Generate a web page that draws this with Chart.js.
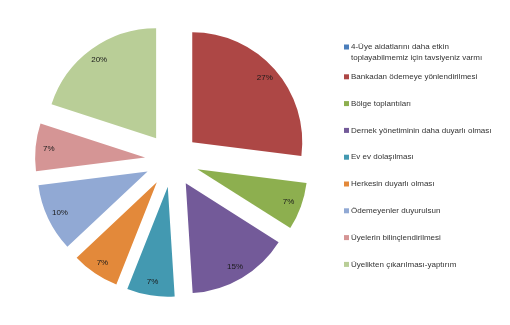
<!DOCTYPE html>
<html>
<head>
<meta charset="utf-8">
<script src="https://cdn.jsdelivr.net/npm/chart.js@4"></script>
<style>
  html, body { margin: 0; padding: 0; background: #ffffff; }
  #wrap { width: 510px; height: 325px; }
</style>
</head>
<body>
<div id="wrap"><canvas id="c" width="510" height="325"></canvas></div>
<script>
// Survey answers and their shares (%)
const categories = [
  ['4-Üye aidatlarını daha etkin', 'toplayabilmemiz için tavsiyeniz varmı'],
  ['Bankadan ödemeye yönlendirilmesi'],
  ['Bölge toplantıları'],
  ['Dernek yönetiminin daha duyarlı olması'],
  ['Ev ev dolaşılması'],
  ['Herkesin duyarlı olması'],
  ['Ödemeyenler duyurulsun'],
  ['Üyelerin bilinçlendirilmesi'],
  ['Üyelikten çıkarılması-yaptırım']
];
const shares = [0, 27, 7, 15, 7, 7, 10, 7, 20];
const sliceColors = ['#4A7EBB', '#AD4745', '#8DAF4F', '#735A99', '#4399B1', '#E3893A', '#91A9D4', '#D59595', '#B9CE97'];

const FONT = '"Liberation Sans", Arial, sans-serif';
const EXPLODE = 27;

// Pull every slice outward along its bisector, keeping one common radius
const explode = {
  id: 'explode',
  afterDatasetsUpdate(chart) {
    chart.getDatasetMeta(0).data.forEach(arc => {
      const mid = (arc.startAngle + arc.endAngle) / 2;
      arc.x += Math.cos(mid) * EXPLODE;
      arc.y += Math.sin(mid) * EXPLODE;
    });
  }
};

// Percentage labels placed inside each slice
const sliceLabels = {
  id: 'sliceLabels',
  afterDatasetsDraw(chart) {
    const ctx = chart.ctx;
    const meta = chart.getDatasetMeta(0);
    ctx.save();
    ctx.font = '8px ' + FONT;
    ctx.fillStyle = '#1a1a1a';
    ctx.textAlign = 'center';
    ctx.textBaseline = 'middle';
    meta.data.forEach((arc, i) => {
      const v = shares[i];
      if (!v) return;
      const mid = (arc.startAngle + arc.endAngle) / 2;
      const d = arc.outerRadius * 0.88;
      ctx.fillText(v + '%', arc.x + Math.cos(mid) * d, arc.y + Math.sin(mid) * d);
    });
    ctx.restore();
  }
};

// Legend on the right, one entry per answer
const sideLegend = {
  id: 'sideLegend',
  afterDraw(chart) {
    const ctx = chart.ctx;
    const x0 = 344, top = 47, step = 26.8, lineH = 11;
    ctx.save();
    ctx.font = '8px ' + FONT;
    ctx.textBaseline = 'middle';
    ctx.textAlign = 'left';
    let y = top;
    categories.forEach((lines, i) => {
      ctx.fillStyle = sliceColors[i];
      ctx.fillRect(x0, y - 2.5, 5, 5);
      ctx.fillStyle = '#333333';
      lines.forEach((t, k) => ctx.fillText(t, x0 + 7, y + k * lineH));
      y += step + (lines.length - 1) * (lineH - 8);
    });
    ctx.restore();
  }
};

new Chart(document.getElementById('c'), {
  type: 'pie',
  data: {
    labels: categories.map(l => l.join(' ')),
    datasets: [{
      data: shares,
      backgroundColor: sliceColors,
      borderWidth: 0
    }]
  },
  options: {
    responsive: false,
    animation: false,
    radius: 110,
    layout: { padding: { left: 0, right: 166, top: 0, bottom: 5 } },
    plugins: {
      legend: { display: false },
      tooltip: { enabled: false }
    }
  },
  plugins: [explode, sliceLabels, sideLegend]
});
</script>
</body>
</html>
